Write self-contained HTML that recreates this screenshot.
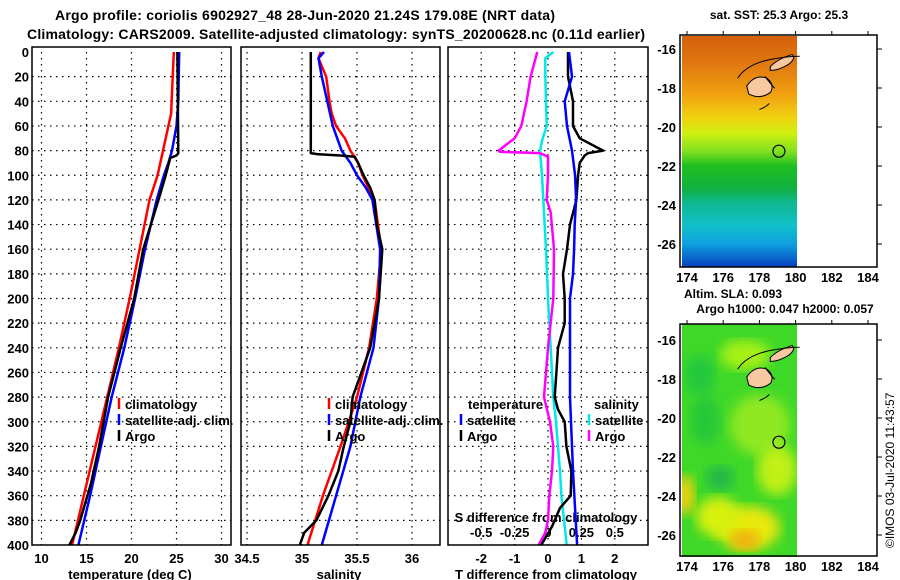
<!DOCTYPE html>
<html><head><meta charset="utf-8"><style>
html,body{margin:0;padding:0;background:#fff;}
svg{display:block;font-family:"Liberation Sans",Arial,sans-serif;font-weight:bold;}
</style></head><body>
<svg id="c" width="900" height="580" viewBox="0 0 900 580" xmlns="http://www.w3.org/2000/svg">
<defs>
<linearGradient id="sstg" x1="0" y1="0" x2="0" y2="1">
<stop offset="0" stop-color="#d4600c"/><stop offset="0.12" stop-color="#e07810"/><stop offset="0.25" stop-color="#f0a010"/>
<stop offset="0.35" stop-color="#f0d010"/><stop offset="0.42" stop-color="#d0f010"/><stop offset="0.5" stop-color="#80e020"/>
<stop offset="0.56" stop-color="#20c020"/><stop offset="0.66" stop-color="#10b040"/><stop offset="0.72" stop-color="#10b890"/>
<stop offset="0.82" stop-color="#10c0c8"/><stop offset="0.9" stop-color="#10a0e0"/><stop offset="1" stop-color="#0840c0"/>
</linearGradient>
<filter id="bl"><feGaussianBlur stdDeviation="6"/></filter>
<clipPath id="m2c"><rect x="682" y="324" width="115" height="233"/></clipPath>
</defs>
<text x="305" y="20" text-anchor="middle" font-size="14" textLength="500">Argo profile: coriolis 6902927_48 28-Jun-2020 21.24S 179.08E (NRT data)</text>
<text x="336" y="39" text-anchor="middle" font-size="14" textLength="618">Climatology: CARS2009. Satellite-adjusted climatology: synTS_20200628.nc (0.11d earlier)</text>
<g id="plots"></g>
<g id="maps"></g>
<text transform="translate(894,548) rotate(-90)" font-size="12" font-weight="normal">©IMOS 03-Jul-2020 11:43:57</text>
</svg>
<script>
// ---- data (depth in m) ----
const tempClimD=[0,50,80,100,120,160,200,240,280,320,360,400];
const tempClimV=[24.7,24.4,23.5,22.9,22.0,20.9,19.8,18.6,17.3,16.0,14.7,13.4];
const tempSatD=[0,40,60,80,90,100,120,160,200,240,280,320,360,400];
const tempSatV=[25.3,25.2,25.0,24.5,24.1,23.6,22.8,21.5,20.4,19.2,17.8,16.6,15.4,14.1];
const tempArgoD=[0,82,84,86,100,120,160,200,240,280,320,350,360,380,390,400];
const tempArgoV=[25.1,25.2,25.0,24.3,23.8,23.0,21.3,20.3,18.8,17.4,16.4,15.5,15.1,14.3,13.8,13.1];
const salClimD=[0,5,20,40,50,60,70,80,90,100,120,160,200,240,280,320,360,400];
const salClimV=[35.17,35.15,35.22,35.25,35.27,35.31,35.39,35.44,35.51,35.55,35.66,35.72,35.68,35.61,35.50,35.35,35.19,35.05];
const salSatD=[0,5,20,40,60,80,90,100,110,120,160,200,240,280,320,360,400];
const salSatV=[35.2,35.15,35.18,35.23,35.28,35.36,35.44,35.5,35.58,35.64,35.71,35.7,35.65,35.53,35.44,35.31,35.18];
const salArgoD=[0,82,83,84,85,90,100,110,120,140,160,200,240,280,300,320,340,360,380,390,400];
const salArgoV=[35.08,35.08,35.15,35.35,35.48,35.51,35.56,35.62,35.66,35.68,35.73,35.7,35.62,35.46,35.44,35.38,35.33,35.24,35.13,35.02,34.98];
const tdArgoD=[0,20,40,60,70,80,82,84,90,100,120,140,160,180,200,220,240,260,280,290,300,320,340,360,370,385,400];
const tdArgoV=[0.6,0.6,0.75,0.75,0.95,1.65,1.2,1.1,0.95,0.9,0.85,0.66,0.57,0.45,0.5,0.5,0.3,0.25,0.2,0.3,0.5,0.55,0.7,0.68,0.36,0.12,-0.2];
const tdSatD=[0,20,40,60,80,100,120,140,160,180,200,280,340,400];
const tdSatV=[0.63,0.72,0.5,0.57,0.72,0.81,0.84,0.8,0.78,0.75,0.66,0.66,0.75,0.87];
const sdArgoD=[0,20,40,60,70,80,81,82,85,100,120,130,160,200,240,260,280,300,320,340,360,380,390,400];
const sdArgoV=[-0.08,-0.13,-0.16,-0.2,-0.25,-0.37,-0.36,-0.06,0.0,0.0,-0.01,0.02,0.045,0.04,0.0,-0.015,-0.03,0.015,0.04,0.03,0.01,0.0,-0.02,-0.07];
const sdSatD=[0,5,20,40,60,70,80,100,160,200,240,280,300,340,360,400];
const sdSatV=[0.04,-0.02,-0.02,-0.015,-0.01,-0.04,-0.06,-0.045,-0.015,0.0,0.02,0.04,0.06,0.09,0.1,0.14];
const depthTicks=[0,20,40,60,80,100,120,140,160,180,200,220,240,260,280,300,320,340,360,380,400];
const tTicks=[10,15,20,25,30];
const sTicks=[34.5,35,35.5,36];
const tdTicks=[-2,-1,0,1,2];
const sdTicks=[-0.5,-0.25,0,0.25,0.5];
const sdTickLabels=["-0.5","-0.25","0","0.25","0.5"];
const latTicks=[-16,-18,-20,-22,-24,-26];
const lonTicks=[174,176,178,180,182,184];

const NS='http://www.w3.org/2000/svg';
const G=document.getElementById('plots');
function mk(tag,at,par){const e=document.createElementNS(NS,tag);for(const k in at)e.setAttribute(k,at[k]);(par||G).appendChild(e);return e;}
function txt(x,y,s,at,par){const e=mk('text',Object.assign({x:x,y:y,'font-size':12},at||{}),par);e.textContent=s;return e;}
const TOP=52,BOT=545;
const yD=d=>TOP+d*(BOT-TOP)/400;
const xT=v=>41.5+(v-10)*9;
const xS=v=>302+(v-35)*110;
const xTD=v=>548+v*33.4;
const xSD=v=>548+v*133.6;
const panels=[{x0:32,x1:231,name:'temperature-panel'},{x0:241,x1:440,name:'salinity-panel'},{x0:448,x1:648,name:'difference-panel'}];
panels.forEach((p,i)=>{
  const g=mk('g',{});
  
  
  depthTicks.forEach(d=>{if(d>0&&d<400){const l=mk('line',{x1:p.x0,x2:p.x1,y1:yD(d),y2:yD(d),stroke:'#000','stroke-dasharray':'1.5,4.5','stroke-width':1.2},g);}});
  p.g=g;
});
function vgrid(g,xs){xs.forEach(x=>{const l=mk('line',{x1:x,x2:x,y1:TOP,y2:BOT,stroke:'#000','stroke-dasharray':'1.5,4.5','stroke-width':1.2},g);});}
vgrid(panels[0].g,tTicks.map(xT));
vgrid(panels[1].g,sTicks.map(xS));
vgrid(panels[2].g,tdTicks.map(xTD));
// depth labels
depthTicks.forEach(d=>{const t=txt(29,yD(d)+5,String(d),{'text-anchor':'end','font-size':13});});
// x ticks
tTicks.forEach(v=>{const t=txt(xT(v),563,String(v),{'text-anchor':'middle','font-size':13});});
sTicks.forEach(v=>{const t=txt(xS(v),563,String(v),{'text-anchor':'middle','font-size':13});});
tdTicks.forEach(v=>{const t=txt(xTD(v),563,String(v),{'text-anchor':'middle','font-size':13});});
sdTicks.forEach((v,i)=>{const t=txt(xSD(v),537,sdTickLabels[i],{'text-anchor':'middle','font-size':13});});
let t;
t=txt(130,579,'temperature (deg C)',{'text-anchor':'middle','font-size':13});
t=txt(339,579,'salinity',{'text-anchor':'middle','font-size':13});
t=txt(546,579,'T difference from climatology',{'text-anchor':'middle','font-size':13});
t=txt(546,522,'S difference from climatology',{'text-anchor':'middle','font-size':13});
// lines
function series(D,V,fx,col,name,w){const pts=D.map((d,i)=>fx(V[i]).toFixed(1)+','+yD(d).toFixed(1)).join(' ');const l=mk('polyline',{points:pts,fill:'none',stroke:col,'stroke-width':w||2.5,'stroke-linejoin':'round'});}
series(tempClimD,tempClimV,xT,'#ff0000','temp-climatology-line');
series(tempSatD,tempSatV,xT,'#0000ff','temp-satellite-line');
series(tempArgoD,tempArgoV,xT,'#000','temp-argo-line');
series(salClimD,salClimV,xS,'#ff0000','sal-climatology-line');
series(salSatD,salSatV,xS,'#0000ff','sal-satellite-line');
series(salArgoD,salArgoV,xS,'#000','sal-argo-line');
series(sdSatD,sdSatV,xSD,'#00e8e8','sdiff-satellite-line');
series(sdArgoD,sdArgoV,xSD,'#ff00ff','sdiff-argo-line');
series(tdArgoD,tdArgoV,xTD,'#000','tdiff-argo-line');
series(tdSatD,tdSatV,xTD,'#0000ff','tdiff-satellite-line');
// frames
panels.forEach(p=>{const r=mk('rect',{x:p.x0,y:TOP-5,width:p.x1-p.x0,height:BOT-TOP+5,fill:'none',stroke:'#000','stroke-width':1.5});});
// legends
function leg(x,y,col,s,name){const l=mk('line',{x1:x,x2:x,y1:y-6,y2:y+5,stroke:col,'stroke-width':2.5});const e=txt(x+6,y+5,s,{'font-size':13});}
leg(119,404,'#ff0000','climatology','legend-temp-climatology');
leg(119,420,'#0000ff','satellite-adj. clim.','legend-temp-satellite');
leg(119,436,'#000','Argo','legend-temp-argo');
leg(329,404,'#ff0000','climatology','legend-sal-climatology');
leg(329,420,'#0000ff','satellite-adj. clim.','legend-sal-satellite');
leg(329,436,'#000','Argo','legend-sal-argo');
t=txt(468,409,'temperature',{'font-size':13});
leg(461,420,'#0000ff','satellite','legend-tdiff-satellite');
leg(461,436,'#000','Argo','legend-tdiff-argo');
t=txt(594,409,'salinity',{'font-size':13});
leg(589,420,'#00e8e8','satellite','legend-sdiff-satellite');
leg(589,436,'#ff00ff','Argo','legend-sdiff-argo');

// ---- maps ----
const M=document.getElementById('maps');
function map(y0,lat16,fillFn,name,title,sub){
  const g=mk('g',{},M);
  fillFn(g);
  const xL=lon=>687+(lon-174)*18.1, yL=lat=>lat16+(-16-lat)*19.5;
  // land
  let p=mk('path',{d:`M${xL(177.3)},${yL(-17.9)} q8,-12 20,-8 q8,6 4,14 q-10,8 -22,2 z`,fill:'#f8c8a0',stroke:'#000','stroke-width':1},g);
  p=mk('path',{d:`M${xL(178.6)},${yL(-16.9)} q8,-8 22,-12 q4,4 -4,10 q-10,6 -18,6 z`,fill:'#f8c8a0',stroke:'#000','stroke-width':1},g);
  p=mk('path',{d:`M${xL(176.8)},${yL(-17.5)} q10,-16 40,-20 q12,-2 22,-2 M${xL(178.3)},${yL(-17.4)} q6,8 10,12 M${xL(178)},${yL(-19.1)} q6,-2 10,-6`,fill:'none',stroke:'#000','stroke-width':1},g);
  const c=mk('circle',{cx:xL(179.08),cy:yL(-21.24),r:6,fill:'none',stroke:'#000','stroke-width':1.2},g);
  const r=mk('rect',{x:680,y:y0,width:197,height:232,fill:'none',stroke:'#000','stroke-width':1.5},g);
  latTicks.forEach(l=>{const k=mk('line',{x1:877,x2:882,y1:yL(l),y2:yL(l),stroke:'#000'},g);
    const e=txt(676,yL(l)+5,String(l),{'text-anchor':'end','font-size':13},g);});
  lonTicks.forEach(l=>{const k=mk('line',{x1:xL(l),x2:xL(l),y1:y0,y2:y0-4,stroke:'#000'},g);
    const e=txt(xL(l),y0+247,String(l),{'text-anchor':'middle','font-size':13},g);});
  if(title){const e=txt(779,y0-16,title,{'text-anchor':'middle','font-size':12},g);}
}
map(35,49,g=>{const r=mk('rect',{x:682,y:36,width:115,height:231,fill:'url(#sstg)'},g);},'sst-map','sat. SST: 25.3 Argo: 25.3');
map(324,340,g=>{
  const gg=mk('g',{'clip-path':'url(#m2c)'},g);
  mk('rect',{x:682,y:324,width:115,height:233,fill:'#40d828'},gg);
  const blobs=[[745,355,25,15,'#a8f018'],[700,375,15,20,'#20c840'],[705,420,15,25,'#28c838'],[760,425,30,30,'#90e820'],[777,470,20,25,'#c0f018'],[748,528,32,22,'#e8e810'],[718,517,22,20,'#d8f010'],[685,495,10,20,'#f0d010'],[745,540,15,10,'#f0b010'],[720,478,15,12,'#20b848']];
  blobs.forEach(b=>mk('ellipse',{cx:b[0],cy:b[1],rx:b[2],ry:b[3],fill:b[4],filter:'url(#bl)'},gg));
},'sla-map',null);
t=txt(733,298,'Altim. SLA: 0.093',{'text-anchor':'middle','font-size':12});
t=txt(785,313,'Argo h1000: 0.047 h2000: 0.057',{'text-anchor':'middle','font-size':12});
</script>
</body></html>
